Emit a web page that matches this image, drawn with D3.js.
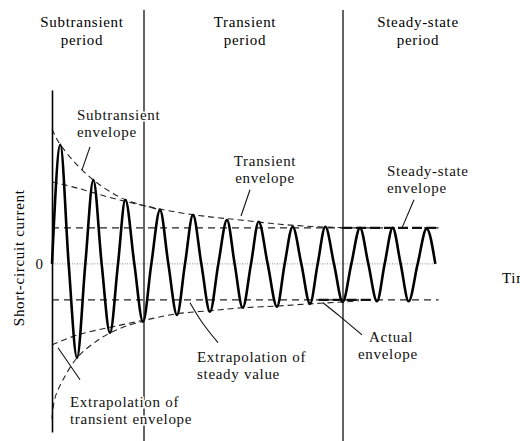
<!DOCTYPE html>
<html>
<head>
<meta charset="utf-8">
<script src="https://cdn.jsdelivr.net/npm/d3@7"></script>
<style>
  body { margin: 0; background: #fff; }
</style>
</head>
<body>
<div id="chart"></div>
<script>
// time is in cycles after the fault, current in units of the steady-state amplitude
var zeroTimes = [0, 0.5, 1.0, 1.49, 1.98, 2.47, 2.98, 3.49, 3.99, 4.48, 4.99, 5.48,
                 5.97, 6.47, 6.98, 7.48, 7.97, 8.46, 8.98, 9.49, 9.98, 10.46, 10.97, 11.5];
var peakTimes = [0.25, 0.75, 1.24, 1.74, 2.2, 2.73, 3.24, 3.75, 4.23, 4.74, 5.25, 5.72,
                 6.2, 6.75, 7.22, 7.74, 8.2, 8.72, 9.24, 9.75, 10.22, 10.7, 11.24];
var peakValues = [3.31, -2.61, 2.33, -1.92, 1.78, -1.61, 1.5, -1.42, 1.36, -1.33, 1.22, -1.22,
                  1.17, -1.19, 1.03, -1.11, 1.03, -1.06, 1.0, -1.04, 1.0, -1.04, 0.98];

// dashed envelopes, [time, current]
var subtransientUpper = [[0, 3.75], [0.1, 3.55], [0.25, 3.31], [0.7, 2.8], [1.24, 2.33],
                         [1.75, 2.0], [2.2, 1.78], [2.75, 1.62], [3.24, 1.5]];
var subtransientLower = [[0, -4.3], [0.09, -3.72], [0.33, -3.22], [0.75, -2.61], [1.25, -2.2],
                         [1.74, -1.92], [2.25, -1.72], [2.73, -1.6]];
var transientUpper = [[0, 2.28], [0.78, 2.1], [1.8, 1.83], [2.7, 1.63], [3.84, 1.42], [4.8, 1.3],
                      [5.64, 1.22], [6.84, 1.1], [7.8, 1.04], [8.85, 1.0]];
var transientLower = [[0, -2.25], [0.78, -1.97], [1.8, -1.75], [2.79, -1.56], [3.78, -1.38],
                      [4.74, -1.3], [5.7, -1.22], [6.75, -1.17], [7.74, -1.11], [8.7, -1.06], [9.2, -1.03]];
var steadyAmplitude = 1;
var steadySpan = [0, 11.6];
var actualUpperSpan = [8.7, 11.6];
var actualLowerSpan = [8.0, 9.6];
var periodBounds = [2.76, 8.73];
var periodNames = [["Subtransient", "period"], ["Transient", "period"], ["Steady-state", "period"]];
var yTicks = [0];

var width = 520, height = 441;
var serif = "'Liberation Serif', 'Times New Roman', Times, 'DejaVu Serif', serif";
var fontSize = 15, spacing = 0.7;

var svg = d3.select("#chart")
  .append("svg")
  .attr("width", width)
  .attr("height", height)
  .attr("font-family", serif);

svg.append("rect").attr("width", width).attr("height", height).attr("fill", "#fff");

var x = d3.scaleLinear().domain([0, 12]).range([52, 452]);
var y = d3.scaleLinear().domain([-4.67, 4.83]).range([432, 90]);

// zero line (dotted)
svg.append("line")
  .attr("x1", x(0)).attr("x2", x(11.5))
  .attr("y1", y(0)).attr("y2", y(0))
  .attr("stroke", "#888").attr("stroke-width", 1)
  .attr("stroke-dasharray", "1,1.5");

// steady-state envelope
[steadyAmplitude, -steadyAmplitude].forEach(function(a) {
  svg.append("line")
    .attr("x1", x(steadySpan[0])).attr("x2", x(steadySpan[1]))
    .attr("y1", y(a)).attr("y2", y(a))
    .attr("stroke", "#222").attr("stroke-width", 1.2)
    .attr("stroke-dasharray", "7,5");
});

// actual envelope, drawn heavier
[[actualUpperSpan, steadyAmplitude], [actualLowerSpan, -steadyAmplitude]].forEach(function(s) {
  svg.append("line")
    .attr("x1", x(s[0][0])).attr("x2", x(s[0][1]))
    .attr("y1", y(s[1])).attr("y2", y(s[1]))
    .attr("stroke", "#111").attr("stroke-width", 2.4)
    .attr("stroke-dasharray", "10,4");
});

// other dashed envelopes
var envLine = d3.line()
  .x(function(d) { return x(d[0]); })
  .y(function(d) { return y(d[1]); })
  .curve(d3.curveCatmullRom);

[subtransientUpper, subtransientLower, transientUpper, transientLower].forEach(function(env) {
  svg.append("path")
    .attr("d", envLine(env))
    .attr("fill", "none")
    .attr("stroke", "#222").attr("stroke-width", 1.1)
    .attr("stroke-dasharray", "6,4");
});

// the current itself: zero crossings and peaks interleaved
var wave = [];
zeroTimes.forEach(function(t, i) {
  wave.push([t, 0]);
  if (i < peakTimes.length) wave.push([peakTimes[i], peakValues[i]]);
});

svg.append("path")
  .attr("d", d3.line()
    .x(function(d) { return x(d[0]); })
    .y(function(d) { return y(d[1]); })
    .curve(d3.curveMonotoneX)(wave))
  .attr("fill", "none")
  .attr("stroke", "#000")
  .attr("stroke-width", 2.6);

// period dividers
periodBounds.forEach(function(t) {
  svg.append("line")
    .attr("x1", x(t)).attr("x2", x(t))
    .attr("y1", 10).attr("y2", height)
    .attr("stroke", "#111").attr("stroke-width", 1.3);
});

// y axis with only the zero tick
var axis = svg.append("g")
  .attr("transform", "translate(" + x(0) + ",0)")
  .call(d3.axisLeft(y).tickValues(yTicks).tickSize(0).tickPadding(9));
axis.attr("font-family", serif).attr("font-size", fontSize);
axis.select(".domain").attr("stroke", "#000").attr("stroke-width", 1.6);
axis.selectAll("text").attr("fill", "#111");

// period headings
var headCenters = [0.9, 5.79, 10.98];
periodNames.forEach(function(lines, k) {
  var txt = svg.append("text")
    .attr("text-anchor", "middle")
    .attr("font-size", fontSize)
    .attr("letter-spacing", spacing);
  lines.forEach(function(s, j) {
    txt.append("tspan")
      .attr("x", x(headCenters[k]))
      .attr("y", y(6.58 - j * 0.5))
      .text(s);
  });
});

// leader lines
var leaders = [
  [[1.14, 3.25], [0.9, 2.61]],
  [[5.94, 2.06], [5.67, 1.33]],
  [[10.86, 1.78], [10.5, 1.0]],
  [[0.84, -3.22], [0.18, -2.33]],
  [[4.98, -2.19], [4.5, -1.62], [4.14, -1.08]],
  [[9.3, -1.97], [8.64, -1.46], [8.13, -1.08]]
];
var leadLine = d3.line()
  .x(function(d) { return x(d[0]); })
  .y(function(d) { return y(d[1]); })
  .curve(d3.curveNatural);
leaders.forEach(function(l) {
  svg.append("path")
    .attr("d", leadLine(l))
    .attr("fill", "none")
    .attr("stroke", "#111").attr("stroke-width", 1.1);
});

// annotation labels
var notes = [
  {lines: ["Subtransient", "envelope"], t: 0.75, i: 3.99, anchor: "start"},
  {lines: ["Transient", "envelope"], t: 6.39, i: 2.71, anchor: "middle"},
  {lines: ["Steady-state", "envelope"], t: 10.05, i: 2.44, anchor: "start"},
  {lines: ["Extrapolation of", "transient envelope"], t: 0.54, i: -3.98, anchor: "start"},
  {lines: ["Extrapolation of", "steady value"], t: 4.35, i: -2.73, anchor: "start"},
  {lines: ["Actual", "envelope"], t: [9.51, 9.18], i: -2.17, anchor: "start"}
];
notes.forEach(function(n) {
  var txt = svg.append("text")
    .attr("text-anchor", n.anchor)
    .attr("font-size", fontSize)
    .attr("letter-spacing", spacing)
    .attr("fill", "#111")
    .attr("stroke", "#fff").attr("stroke-width", 3)
    .attr("paint-order", "stroke");
  n.lines.forEach(function(s, j) {
    var t = Array.isArray(n.t) ? n.t[j] : n.t;
    txt.append("tspan")
      .attr("x", x(t))
      .attr("y", y(n.i - j * 0.47))
      .text(s);
  });
});

// axis titles
svg.append("text")
  .attr("transform", "translate(24," + y(0.17) + ") rotate(-90)")
  .attr("text-anchor", "middle")
  .attr("font-size", fontSize)
  .attr("letter-spacing", spacing)
  .text("Short-circuit current");

svg.append("text")
  .attr("x", x(13.5))
  .attr("y", y(-0.53))
  .attr("font-size", fontSize)
  .attr("letter-spacing", spacing)
  .text("Time");
</script>
</body>
</html>
